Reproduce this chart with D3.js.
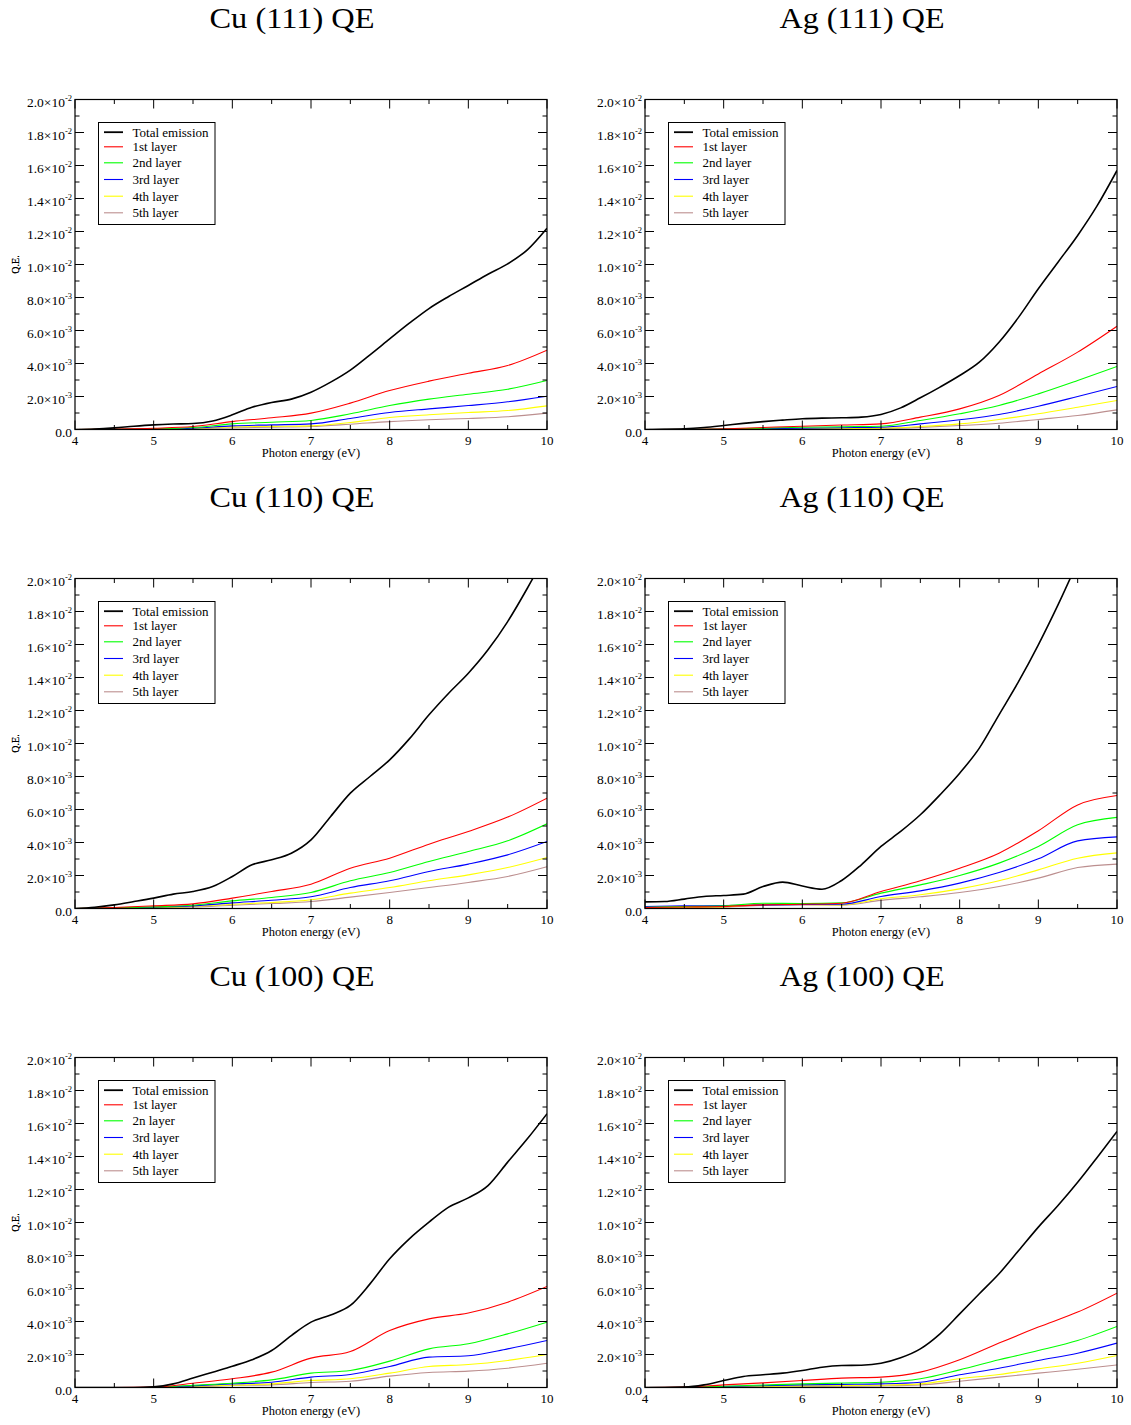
<!DOCTYPE html>
<html>
<head>
<meta charset="utf-8">
<script src="https://cdn.jsdelivr.net/npm/d3@7"></script>
<style>
  html, body { margin: 0; padding: 0; background: #fff; }
  svg { display: block; }
  text { font-family: "Liberation Serif", "Times New Roman", serif; fill: #000; }
</style>
</head>
<body>
<svg id="chart" width="1131" height="1425"></svg>
<script>
// Photon energy grids (eV): fine grid for total emission, coarse grid for the layer curves
const energyFine = [4, 4.25, 4.5, 4.75, 5, 5.25, 5.5, 5.75, 6, 6.25, 6.5, 6.75, 7,
                    7.25, 7.5, 7.75, 8, 8.25, 8.5, 8.75, 9, 9.25, 9.5, 9.75, 10];
const energyCoarse = [4, 4.5, 5, 5.5, 6, 6.5, 7, 7.5, 8, 8.5, 9, 9.5, 10];

// Quantum efficiency values, in units of 1e-3
const cu111Total = [0, 0.03, 0.1, 0.2, 0.28, 0.33, 0.36, 0.52, 0.89, 1.35, 1.64, 1.84, 2.26,
                    2.87, 3.6, 4.53, 5.49, 6.44, 7.33, 8.06, 8.73, 9.41, 10.04, 10.89, 12.2];
const cu111Layers = [
  [0, 0.03, 0.08, 0.18, 0.48, 0.71, 0.99, 1.6, 2.36, 2.93, 3.41, 3.88, 4.81],
  [0, 0.01, 0.04, 0.12, 0.34, 0.44, 0.55, 0.95, 1.45, 1.84, 2.14, 2.44, 2.97],
  [0, 0.01, 0.03, 0.08, 0.22, 0.28, 0.34, 0.67, 1.03, 1.25, 1.45, 1.68, 2.02],
  [0, 0.01, 0.02, 0.06, 0.16, 0.19, 0.22, 0.42, 0.73, 0.89, 1.03, 1.15, 1.43],
  [0, 0.01, 0.02, 0.04, 0.1, 0.14, 0.18, 0.32, 0.48, 0.59, 0.67, 0.77, 0.99]
];

const ag111Total = [0, 0.01, 0.04, 0.12, 0.24, 0.37, 0.48, 0.57, 0.65, 0.69, 0.71, 0.75, 0.91,
                    1.31, 1.92, 2.57, 3.27, 4.08, 5.29, 6.81, 8.53, 10.14, 11.76, 13.58, 15.7];
const ag111Layers = [
  [0, 0.01, 0.04, 0.12, 0.2, 0.27, 0.34, 0.75, 1.25, 2.06, 3.37, 4.69, 6.26],
  [0, 0.01, 0.03, 0.08, 0.14, 0.17, 0.2, 0.55, 0.95, 1.45, 2.16, 2.97, 3.82],
  [0, 0.01, 0.02, 0.05, 0.08, 0.11, 0.14, 0.34, 0.59, 0.91, 1.41, 2.0, 2.61],
  [0, 0, 0.01, 0.03, 0.05, 0.06, 0.08, 0.18, 0.34, 0.61, 0.95, 1.35, 1.76],
  [0, 0, 0.01, 0.02, 0.03, 0.04, 0.06, 0.13, 0.24, 0.38, 0.61, 0.85, 1.19]
];

const cu110Total = [0, 0.08, 0.22, 0.42, 0.63, 0.87, 1.03, 1.33, 1.94, 2.65, 2.95, 3.35, 4.16,
                    5.58, 6.99, 8.0, 9.01, 10.28, 11.74, 13.05, 14.26, 15.68, 17.39, 19.41, 21.6];
const cu110Layers = [
  [0, 0.06, 0.16, 0.28, 0.63, 1.03, 1.47, 2.44, 3.05, 3.9, 4.67, 5.54, 6.69],
  [0, 0.04, 0.1, 0.2, 0.46, 0.67, 0.97, 1.68, 2.18, 2.85, 3.45, 4.1, 5.13],
  [0, 0.03, 0.08, 0.16, 0.34, 0.5, 0.71, 1.27, 1.68, 2.24, 2.69, 3.25, 4.06],
  [0, 0.02, 0.06, 0.12, 0.26, 0.36, 0.53, 0.93, 1.27, 1.68, 2.04, 2.48, 3.09],
  [0, 0.01, 0.04, 0.09, 0.2, 0.3, 0.42, 0.69, 0.97, 1.27, 1.58, 1.94, 2.53]
];

const ag110Total = [0.4, 0.42, 0.57, 0.73, 0.79, 0.87, 1.33, 1.6, 1.36, 1.17, 1.7, 2.65, 3.76,
                    4.67, 5.68, 6.89, 8.2, 9.72, 11.74, 13.76, 15.98, 18.4, 21.0, 23.6, 26.2];
const ag110Layers = [
  [0.06, 0.09, 0.12, 0.22, 0.26, 0.32, 1.03, 1.68, 2.44, 3.35, 4.71, 6.28, 6.85],
  [0.08, 0.12, 0.16, 0.32, 0.3, 0.34, 0.93, 1.43, 2.0, 2.75, 3.76, 5.07, 5.52],
  [0.12, 0.16, 0.18, 0.22, 0.24, 0.26, 0.73, 1.07, 1.54, 2.18, 3.01, 4.1, 4.34],
  [0.06, 0.08, 0.1, 0.26, 0.24, 0.22, 0.59, 0.83, 1.19, 1.68, 2.34, 3.05, 3.37],
  [0.04, 0.06, 0.08, 0.18, 0.22, 0.2, 0.49, 0.71, 0.97, 1.33, 1.84, 2.48, 2.69]
];

const cu100Total = [0, 0, 0, 0, 0.04, 0.22, 0.57, 0.93, 1.29, 1.68, 2.24, 3.15, 3.96,
                    4.4, 4.97, 6.28, 7.8, 9.01, 10.02, 10.93, 11.49, 12.24, 13.66, 15.07, 16.59];
const cu100Layers = [
  [0, 0, 0.02, 0.26, 0.53, 0.93, 1.78, 2.18, 3.45, 4.16, 4.51, 5.17, 6.12],
  [0, 0, 0.01, 0.14, 0.26, 0.46, 0.87, 1.03, 1.6, 2.34, 2.65, 3.25, 3.96],
  [0, 0, 0.01, 0.1, 0.22, 0.32, 0.63, 0.79, 1.27, 1.84, 1.92, 2.34, 2.85],
  [0, 0, 0, 0.07, 0.14, 0.22, 0.42, 0.53, 0.87, 1.27, 1.39, 1.64, 2.0],
  [0, 0, 0, 0.05, 0.12, 0.16, 0.3, 0.38, 0.69, 0.91, 0.99, 1.17, 1.47]
];

const ag100Total = [0, 0, 0.02, 0.16, 0.42, 0.67, 0.77, 0.87, 1.03, 1.23, 1.33, 1.35, 1.47,
                    1.8, 2.34, 3.25, 4.46, 5.68, 6.89, 8.3, 9.72, 11.03, 12.44, 13.96, 15.52];
const ag100Layers = [
  [0, 0.02, 0.16, 0.28, 0.42, 0.57, 0.63, 0.93, 1.68, 2.69, 3.66, 4.57, 5.72],
  [0, 0.01, 0.08, 0.15, 0.22, 0.27, 0.32, 0.53, 1.07, 1.68, 2.24, 2.85, 3.7],
  [0, 0.01, 0.06, 0.11, 0.16, 0.19, 0.22, 0.32, 0.77, 1.17, 1.64, 2.08, 2.69],
  [0, 0, 0.03, 0.07, 0.1, 0.12, 0.14, 0.22, 0.53, 0.79, 1.13, 1.47, 1.94],
  [0, 0, 0.02, 0.04, 0.06, 0.08, 0.1, 0.16, 0.38, 0.63, 0.87, 1.11, 1.37]
];

const panelTitles = ["Cu (111) QE", "Ag (111) QE", "Cu (110) QE", "Ag (110) QE", "Cu (100) QE", "Ag (100) QE"];
const legendLabels = ["Total emission", "1st layer", "2nd layer", "3rd layer", "4th layer", "5th layer"];
const legendLabelsCu100 = ["Total emission", "1st layer", "2n layer", "3rd layer", "4th layer", "5th layer"];
const xTicks = [4, 5, 6, 7, 8, 9, 10];
const yTicks = [0, 2, 4, 6, 8, 10, 12, 14, 16, 18, 20];

// Series colours: total, then layers 1..5
const seriesColors = ["#000000", "#ff0000", "#00ff00", "#0000ff", "#ffff00", "#bc8f8f"];

const panels = [
  { title: panelTitles[0], total: cu111Total, layers: cu111Layers, legend: legendLabels },
  { title: panelTitles[1], total: ag111Total, layers: ag111Layers, legend: legendLabels },
  { title: panelTitles[2], total: cu110Total, layers: cu110Layers, legend: legendLabels },
  { title: panelTitles[3], total: ag110Total, layers: ag110Layers, legend: legendLabels },
  { title: panelTitles[4], total: cu100Total, layers: cu100Layers, legend: legendLabelsCu100 },
  { title: panelTitles[5], total: ag100Total, layers: ag100Layers, legend: legendLabels }
];

const svg = d3.select("#chart");
const colLeft = [75, 645];
const rowTop = [99.5, 578.5, 1057.5];
const W = 472, H = 330;

panels.forEach((p, i) => {
  const left = colLeft[i % 2];
  const top = rowTop[Math.floor(i / 2)];
  const g = svg.append("g").attr("transform", `translate(${left},${top})`);

  const x = d3.scaleLinear().domain([4, 10]).range([0, W]);
  const y = d3.scaleLinear().domain([0, 20e-3]).range([H, 0]);

  // Title
  g.append("text")
    .attr("x", W / 2 - 19).attr("y", -71.5)
    .attr("text-anchor", "middle")
    .attr("font-size", 29)
    .attr("textLength", 165).attr("lengthAdjust", "spacingAndGlyphs")
    .text(p.title);

  // Clip region for curves leaving the frame
  const clipId = "clip" + i;
  g.append("clipPath").attr("id", clipId)
    .append("rect").attr("x", 0).attr("y", 0).attr("width", W).attr("height", H);

  const line = d3.line()
    .x(d => x(d[0]))
    .y(d => y(d[1] * 1e-3))
    .curve(d3.curveMonotoneX);

  const curves = g.append("g").attr("clip-path", `url(#${clipId})`);
  for (let k = p.layers.length - 1; k >= 0; k--) {
    const pts = energyCoarse.map((e, j) => [e, p.layers[k][j]]);
    curves.append("path")
      .attr("d", line(pts))
      .attr("fill", "none")
      .attr("stroke", seriesColors[k + 1])
      .attr("stroke-width", 1.1);
  }
  curves.append("path")
    .attr("d", line(energyFine.map((e, j) => [e, p.total[j]])))
    .attr("fill", "none")
    .attr("stroke", seriesColors[0])
    .attr("stroke-width", 1.6);

  // Inward ticks on all four sides
  const tickG = g.append("g").attr("stroke", "#000").attr("stroke-width", 1);
  const xMinor = d3.range(4.5, 10, 1);
  xTicks.forEach(v => {
    tickG.append("line").attr("x1", x(v)).attr("x2", x(v)).attr("y1", H).attr("y2", H - 9);
    tickG.append("line").attr("x1", x(v)).attr("x2", x(v)).attr("y1", 0).attr("y2", 9);
  });
  xMinor.forEach(v => {
    tickG.append("line").attr("x1", x(v)).attr("x2", x(v)).attr("y1", H).attr("y2", H - 4.5);
    tickG.append("line").attr("x1", x(v)).attr("x2", x(v)).attr("y1", 0).attr("y2", 4.5);
  });
  const yMinor = d3.range(1, 20, 2);
  yTicks.forEach(v => {
    const yy = y(v * 1e-3);
    tickG.append("line").attr("x1", 0).attr("x2", 9).attr("y1", yy).attr("y2", yy);
    tickG.append("line").attr("x1", W).attr("x2", W - 9).attr("y1", yy).attr("y2", yy);
  });
  yMinor.forEach(v => {
    const yy = y(v * 1e-3);
    tickG.append("line").attr("x1", 0).attr("x2", 4.5).attr("y1", yy).attr("y2", yy);
    tickG.append("line").attr("x1", W).attr("x2", W - 4.5).attr("y1", yy).attr("y2", yy);
  });

  // Frame
  g.append("rect").attr("x", 0).attr("y", 0).attr("width", W).attr("height", H)
    .attr("fill", "none").attr("stroke", "#000").attr("stroke-width", 1.2);

  // X tick labels
  xTicks.forEach(v => {
    g.append("text")
      .attr("x", x(v)).attr("y", H + 15)
      .attr("text-anchor", "middle").attr("font-size", 13)
      .text(v);
  });

  // Y tick labels, written as mantissa x 10^exponent
  yTicks.forEach(v => {
    const t = g.append("text")
      .attr("x", -3).attr("y", y(v * 1e-3) + 7)
      .attr("text-anchor", "end").attr("font-size", 13.5);
    if (v === 0) {
      t.text("0.0");
    } else {
      const expo = v >= 10 ? -2 : -3;
      const mant = v >= 10 ? v / 10 : v;
      t.append("tspan").text(mant.toFixed(1) + "\u00d710");
      t.append("tspan").attr("font-size", 8.5).attr("dy", -6).text(String(expo));
    }
  });

  // Axis titles
  g.append("text")
    .attr("x", W / 2).attr("y", H + 27)
    .attr("text-anchor", "middle").attr("font-size", 12.5)
    .text("Photon energy (eV)");
  g.append("text")
    .attr("transform", `translate(${-left + 19},${H / 2}) rotate(-90)`)
    .attr("text-anchor", "middle").attr("font-size", 10)
    .text("Q.E.");

  // Legend
  const lg = g.append("g").attr("transform", "translate(23.5,23)");
  lg.append("rect").attr("x", 0).attr("y", 0).attr("width", 116.5).attr("height", 102)
    .attr("fill", "#fff").attr("stroke", "#000").attr("stroke-width", 1);
  const rowY = [9.7, 24.3, 40.3, 57, 73.7, 90.3];
  p.legend.forEach((lab, k) => {
    lg.append("line")
      .attr("x1", 5.5).attr("x2", 24.5).attr("y1", rowY[k]).attr("y2", rowY[k])
      .attr("stroke", seriesColors[k]).attr("stroke-width", k === 0 ? 1.8 : 1.1);
    lg.append("text")
      .attr("x", 34).attr("y", rowY[k] + 4.3)
      .attr("font-size", 13)
      .text(lab);
  });
});
</script>
</body>
</html>
